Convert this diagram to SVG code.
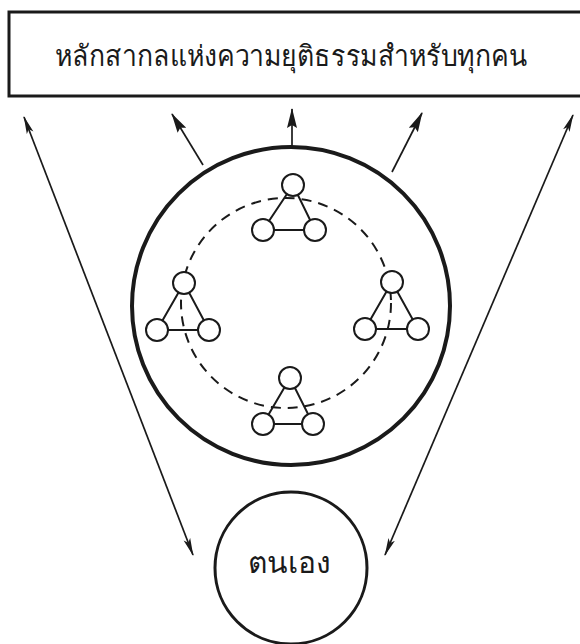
<svg xmlns="http://www.w3.org/2000/svg" width="580" height="644" viewBox="0 0 580 644">
<style>
.txt{font-family:"Noto Sans","DejaVu Sans",sans-serif;fill:#1a1a1a}
.ln{stroke:#1a1a1a;fill:none}
.sm{stroke:#1a1a1a;stroke-width:2;fill:#fff}
.ar{stroke:#1a1a1a;stroke-width:1.7;fill:none}
</style>
<defs>
<marker id="ah" viewBox="0 0 18 8" refX="17" refY="4" markerWidth="18" markerHeight="8" markerUnits="userSpaceOnUse" orient="auto-start-reverse">
<path d="M0,0.5 L18,4 L0,7.5 L4,4 Z" fill="#1a1a1a"/>
</marker>
<marker id="ahb" viewBox="0 0 20 11" refX="19" refY="5.5" markerWidth="20" markerHeight="11" markerUnits="userSpaceOnUse" orient="auto">
<path d="M0,0.5 L20,5.5 L0,10.5 L3,5.5 Z" fill="#1a1a1a"/>
</marker>
</defs>
<rect width="580" height="644" fill="#fff"/>
<g id="title">
<rect x="9" y="12" width="590" height="84" class="ln" stroke-width="3"/>
<text x="291" y="66" text-anchor="middle" class="txt" font-size="29" font-weight="500" textLength="472" lengthAdjust="spacingAndGlyphs">หลักสากลแห่งความยุติธรรมสำหรับทุกคน</text>
</g>
<g id="society">
<circle cx="291" cy="306" r="159" class="ln" stroke-width="4"/>
<circle cx="286" cy="303" r="105" class="ln" stroke-width="2" stroke-dasharray="10 7"/>
</g>
<g id="group-top">
<path d="M293,185 L263,230 L315,230 Z" class="ln" stroke-width="2"/>
<circle cx="293" cy="185" r="11" class="sm"/><circle cx="263" cy="230" r="11" class="sm"/><circle cx="315" cy="230" r="11" class="sm"/>
</g>
<g id="group-left">
<path d="M184,283 L157,330 L209,330 Z" class="ln" stroke-width="2"/>
<circle cx="184" cy="283" r="11" class="sm"/><circle cx="157" cy="330" r="11" class="sm"/><circle cx="209" cy="330" r="11" class="sm"/>
</g>
<g id="group-right">
<path d="M392,282 L365,329 L418,329 Z" class="ln" stroke-width="2"/>
<circle cx="392" cy="282" r="11" class="sm"/><circle cx="365" cy="329" r="11" class="sm"/><circle cx="418" cy="329" r="11" class="sm"/>
</g>
<g id="group-bottom">
<path d="M290,378 L263,424 L313,424 Z" class="ln" stroke-width="2"/>
<circle cx="290" cy="378" r="11" class="sm"/><circle cx="263" cy="424" r="11" class="sm"/><circle cx="313" cy="424" r="11" class="sm"/>
</g>
<g id="self">
<circle cx="291" cy="568" r="76" class="ln" stroke-width="3"/>
<text x="289" y="573" text-anchor="middle" class="txt" font-size="30">ตนเอง</text>
</g>
<g id="connectors">
<line x1="24" y1="117" x2="193" y2="555" class="ar" marker-start="url(#ah)" marker-end="url(#ah)"/>
<line x1="573" y1="115" x2="385" y2="555" class="ar" marker-start="url(#ah)" marker-end="url(#ah)"/>
<line x1="203" y1="165" x2="172" y2="114" class="ar" stroke-width="2" marker-end="url(#ahb)"/>
<line x1="292" y1="147" x2="292" y2="109" class="ar" stroke-width="2" marker-end="url(#ahb)"/>
<line x1="392" y1="172" x2="422" y2="113" class="ar" stroke-width="2" marker-end="url(#ahb)"/>
</g>
</svg>
